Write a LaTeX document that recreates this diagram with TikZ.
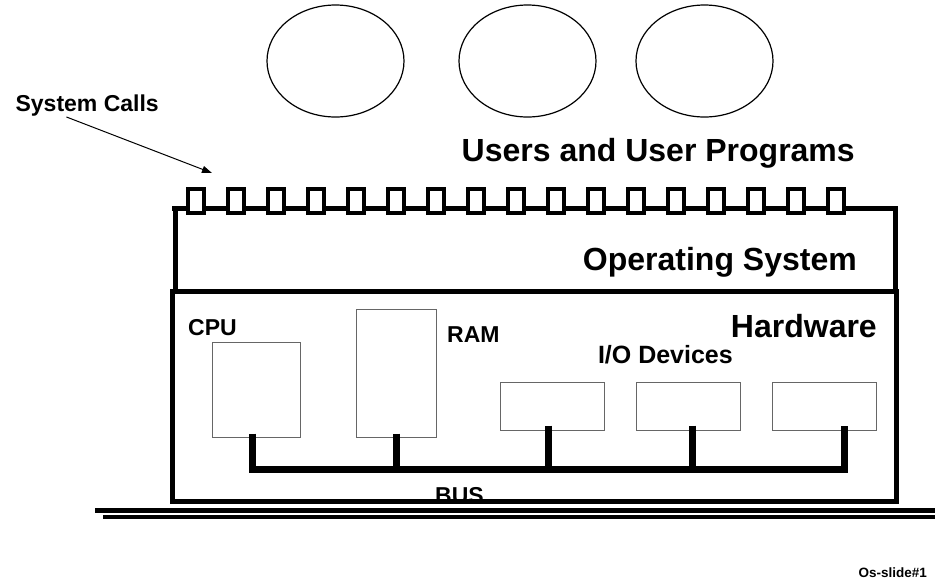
\documentclass[tikz,border=0pt]{standalone}
\usepackage{fontspec}
\setmainfont{Liberation Sans}
\usetikzlibrary{arrows.meta, calc}

\tikzset{
	frame/.style={line width=5pt},
	unit/.style={draw=black!60, line width=1pt, rectangle, inner sep=0pt},
	bus/.style={line width=7pt},
	big/.style={inner sep=0pt, font=\bfseries\fontsize{32}{32}\selectfont},
	mid/.style={inner sep=0pt, font=\bfseries\fontsize{23}{23}\selectfont},
}

\begin{document}
\begin{tikzpicture}[x=1pt, y=-1pt]
	\useasboundingbox (0,0) rectangle (935,587);
	% users
	\draw [line width=1.2pt] (335.5,61) ellipse (68.5 and 56);
	\draw [line width=1.2pt] (527.5,61) ellipse (68.5 and 56);
	\draw [line width=1.2pt] (704.5,61) ellipse (68.5 and 56);
	\path (855,161.7) node [big, anchor=base east] (users) {Users and User Programs};
	% system calls
	\path (159,111) node [mid, anchor=base east] (calls) {System Calls};
	\coordinate (gate) at (212,173);
	\draw [-{Triangle[length=10pt, width=7pt]}, line width=1pt] ($(calls.south west)+(51,1)$) -- (gate);
	% operating system
	\draw [frame] (172,208) -- (895,208) -- (895,291) -- (175,291) -- (175,208);
	\foreach \i in {0,...,16}
		\draw [line width=4pt, fill=white] (188+40*\i,189) rectangle ++(16,24);
	\path (857,270) node [big, anchor=base east] (os) {Operating System};
	% hardware
	\path (435,503.5) node [mid, anchor=base west] (buslabel) {BUS};
	\draw [frame] (172,291) rectangle (896,501);
	\path (877,337) node [big, anchor=base east] (hw) {Hardware};
	\path (188,335) node [mid, anchor=base west] (cpulabel) {CPU};
	\path (447,342.7) node [mid, anchor=base west] (ramlabel) {RAM};
	\path (733,363) node [inner sep=0pt, font=\bfseries\fontsize{25}{25}\selectfont, anchor=base east] (iolabel) {I/O Devices};
	\path (256,389.5) node [unit, minimum width=88pt, minimum height=95pt] (cpu) {};
	\path (396,373) node [unit, minimum width=80pt, minimum height=128pt] (ram) {};
	\path (552,406) node [unit, minimum width=104pt, minimum height=48pt] (io1) {};
	\path (688,406) node [unit, minimum width=104pt, minimum height=48pt] (io2) {};
	\path (824,406) node [unit, minimum width=104pt, minimum height=48pt] (io3) {};
	% bus
	\coordinate (bus east) at (844,469);
	\draw [bus] ($(cpu.south)+(-4,-4)$) |- (bus east) -- ($(io3.south)+(20,-5)$);
	\draw [bus] ($(ram.south)+(0,-4)$) -- (ram.south |- bus east);
	\draw [bus] ($(io1.south)+(-4,-5)$) -- ($(io1.south |- bus east)+(-4,0)$);
	\draw [bus] ($(io2.south)+(4,-5)$) -- ($(io2.south |- bus east)+(4,0)$);
	% floor
	\draw [line width=5pt] (95,510) -- (935,510);
	\draw [line width=4pt] (103,517) -- (935,517);
	\path (927,577) node [inner sep=0pt, font=\bfseries\fontsize{13.5}{13.5}\selectfont, anchor=base east] (slide) {Os-slide\#1};
\end{tikzpicture}
\end{document}
